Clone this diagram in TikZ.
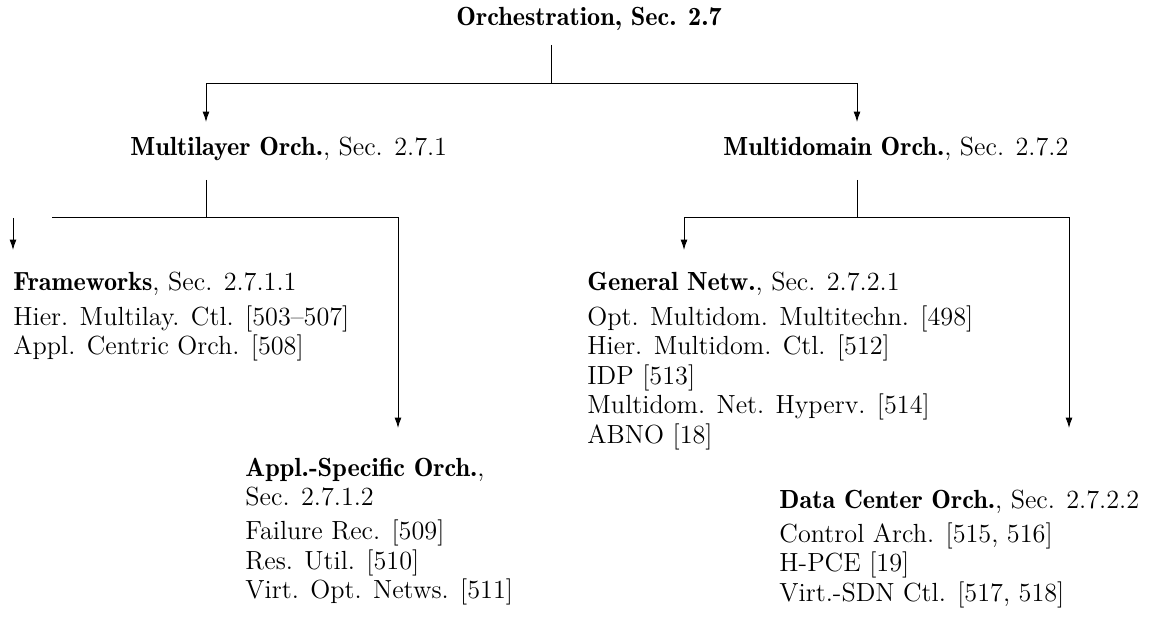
\documentclass[tikz,border=0pt]{standalone}
\usetikzlibrary{arrows.meta}
\newcommand{\hd}[1]{{\fontseries{b}\selectfont #1}}
\newcommand{\blocktext}[1]{\begin{tabular}[t]{@{}l@{}}#1\end{tabular}}
\begin{document}
\begin{tikzpicture}[x=0.4348pt,y=-0.4348pt,
  font=\fontsize{11.4}{12.8}\selectfont,
  conn/.style={line width=0.4pt, draw=black},
  arr/.style={conn, -{Latex[length=4.5pt,width=3pt]}},
  lbl/.style={inner sep=0pt, anchor=base west},
  blk/.style={inner sep=0pt, anchor=base west}]
\useasboundingbox (0,0) rectangle (1150,631);

% nodes
\node[lbl] (t) at (456,26) {\hd{Orchestration, Sec. 2.7}};
\node[lbl] (ml) at (130,156) {\hd{Multilayer Orch.}, Sec. 2.7.1};
\node[lbl] (md) at (723,156) {\hd{Multidomain Orch.}, Sec. 2.7.2};
\node[blk] (fw) at (13,291) {\blocktext{\hd{Frameworks}, Sec. 2.7.1.1\\[2.2pt]
  Hier. Multilay. Ctl. [503--507]\\
  Appl. Centric Orch. [508]}};
\node[blk] (as) at (245,476) {\blocktext{\hd{Appl.-Specific Orch.},\\
  Sec. 2.7.1.2\\[2.2pt]
  Failure Rec. [509]\\
  Res. Util. [510]\\
  Virt. Opt. Netws. [511]}};
\node[blk] (gn) at (587,291) {\blocktext{\hd{General Netw.}, Sec. 2.7.2.1\\[2.2pt]
  Opt. Multidom. Multitechn. [498]\\
  Hier. Multidom. Ctl. [512]\\
  IDP [513]\\
  Multidom. Net. Hyperv. [514]\\
  ABNO [18]}};
\node[blk] (dc) at (779,508) {\blocktext{\hd{Data Center Orch.}, Sec. 2.7.2.2\\[2.2pt]
  Control Arch. [515, 516]\\
  H-PCE [19]\\
  Virt.-SDN Ctl. [517, 518]}};

% junction coordinates
\coordinate (t-out) at (551,45);
\coordinate (t-bus) at (551,83);
\coordinate (ml-in) at (206,122);
\coordinate (md-in) at (857,122);
\coordinate (ml-out) at (206,180);
\coordinate (ml-bus) at (206,217);
\coordinate (ml-busL) at (52,217);
\coordinate (fw-src) at (13,218);
\coordinate (fw-in) at (13,250);
\coordinate (as-in) at (398,428);
\coordinate (md-out) at (857,180);
\coordinate (md-bus) at (857,217);
\coordinate (gn-in) at (684,250);
\coordinate (dc-in) at (1069,428);

% connectors
\draw[conn] (t-out) -- (t-bus);
\draw[arr] (t-bus) -| (ml-in);
\draw[arr] (t-bus) -| (md-in);
\draw[conn] (ml-out) -- (ml-bus);
\draw[conn] (ml-busL) -- (ml-bus);
\draw[arr] (ml-bus) -| (as-in);
\draw[arr] (fw-src) -- (fw-in);
\draw[conn] (md-out) -- (md-bus);
\draw[arr] (md-bus) -| (gn-in);
\draw[arr] (md-bus) -| (dc-in);
\end{tikzpicture}
\end{document}
